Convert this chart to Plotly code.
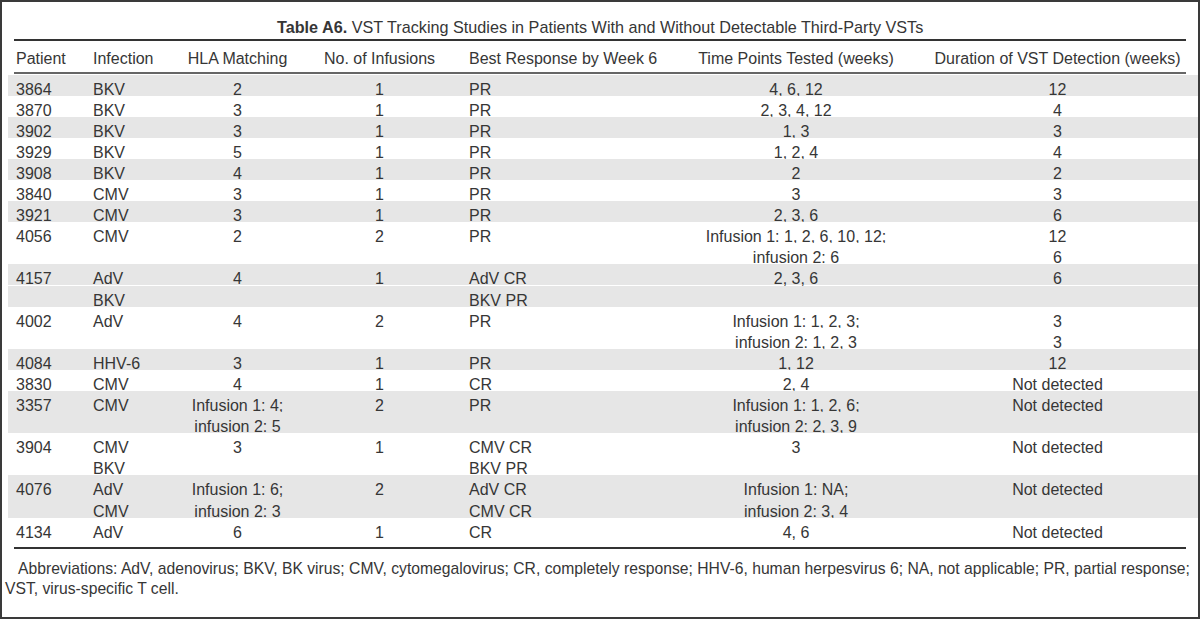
import plotly.graph_objects as go

# ---- data ----
headers = ["Patient", "Infection", "HLA Matching", "No. of Infusions",
           "Best Response by Week 6", "Time Points Tested (weeks)",
           "Duration of VST Detection (weeks)"]
patients = ["3864", "3870", "3902", "3929", "3908", "3840", "3921", "4056",
            "4157", "4002", "4084", "3830", "3357", "3904", "4076", "4134"]
infection = ["BKV", "BKV", "BKV", "BKV", "BKV", "CMV", "CMV", "CMV",
             "AdV\nBKV", "AdV", "HHV-6", "CMV", "CMV", "CMV\nBKV", "AdV\nCMV", "AdV"]
hla_matching = ["2", "3", "3", "5", "4", "3", "3", "2", "4", "4", "3", "4",
                "Infusion 1: 4;\ninfusion 2: 5", "3",
                "Infusion 1: 6;\ninfusion 2: 3", "6"]
n_infusions = ["1", "1", "1", "1", "1", "1", "1", "2", "1", "2", "1", "1",
               "2", "1", "2", "1"]
best_response = ["PR", "PR", "PR", "PR", "PR", "PR", "PR", "PR",
                 "AdV CR\nBKV PR", "PR", "PR", "CR", "PR",
                 "CMV CR\nBKV PR", "AdV CR\nCMV CR", "CR"]
time_points = ["4, 6, 12", "2, 3, 4, 12", "1, 3", "1, 2, 4", "2", "3", "2, 3, 6",
               "Infusion 1: 1, 2, 6, 10, 12;\ninfusion 2: 6", "2, 3, 6",
               "Infusion 1: 1, 2, 3;\ninfusion 2: 1, 2, 3", "1, 12", "2, 4",
               "Infusion 1: 1, 2, 6;\ninfusion 2: 2, 3, 9", "3",
               "Infusion 1: NA;\ninfusion 2: 3, 4", "4, 6"]
duration = ["12", "4", "3", "4", "2", "3", "6", "12\n6", "6", "3\n3", "12",
            "Not detected", "Not detected", "Not detected", "Not detected",
            "Not detected"]

title_bold = "Table A6."
title_rest = "VST Tracking Studies in Patients With and Without Detectable Third-Party VSTs"
foot1 = ("Abbreviations: AdV, adenovirus; BKV, BK virus; CMV, cytomegalovirus; CR, completely "
         "response; HHV-6, human herpesvirus 6; NA, not applicable; PR, partial response;")
foot2 = "VST, virus-specific T cell."

# ---- style ----
FONT = "Liberation Sans, Arial, sans-serif"
TXT = "#363636"
SHADE = "#e6e6e6"
W, H = 1200, 619
FS = 16

cols = [patients, infection, hla_matching, n_infusions, best_response, time_points, duration]
line_cols = [[] for _ in cols]
fills = []
for i in range(len(patients)):
    parts = [c[i].split("\n") for c in cols]
    n = max(len(p) for p in parts)
    for k in range(n):
        for j, p in enumerate(parts):
            line_cols[j].append(p[k] if k < len(p) else "")
    fills += [SHADE if i % 2 == 0 else "white"] * n

aligns = ["left", "left", "center", "center", "left", "center", "center"]
widths = [77, 92, 121, 163, 214, 242, 281]

fig = go.Figure(go.Table(
    domain=dict(x=[8 / W, (8 + sum(widths)) / W], y=[0, 1 - 44 / H]),
    columnwidth=widths,
    header=dict(values=headers, align=aligns,
                font=dict(family=FONT, size=FS, color=TXT),
                fill_color="white", line=dict(width=0, color="white"), height=30.5),
    cells=dict(values=line_cols, align=aligns,
               font=dict(family=FONT, size=FS, color=TXT),
               fill_color=[fills] * len(cols), line=dict(width=0, color="white"),
               height=21.1),
))

def hrule(ypx, w):
    fig.add_shape(type="line", xref="paper", yref="paper",
                  x0=14 / W, x1=1186 / W, y0=1 - ypx / H, y1=1 - ypx / H,
                  line=dict(color="#333333", width=w))

hrule(40, 2)
hrule(73, 1.5)
hrule(548, 2)

fig.add_shape(type="rect", xref="paper", yref="paper", x0=0, x1=1, y0=0, y1=1,
              line=dict(color="#3a3a3a", width=4))

fig.add_annotation(x=0.5, y=1 - 27 / H, xref="paper", yref="paper", showarrow=False,
                   text=f"<b>{title_bold}</b> {title_rest}",
                   font=dict(family=FONT, size=16.2, color=TXT), xanchor="center", yanchor="middle")
fig.add_annotation(x=16 / W, y=1 - 568 / H, xref="paper", yref="paper", showarrow=False,
                   text=foot1, font=dict(family=FONT, size=15.7, color=TXT),
                   xanchor="left", yanchor="middle")
fig.add_annotation(x=3 / W, y=1 - 588 / H, xref="paper", yref="paper", showarrow=False,
                   text=foot2, font=dict(family=FONT, size=15.7, color=TXT),
                   xanchor="left", yanchor="middle")

fig.update_layout(width=W, height=H, margin=dict(l=0, r=0, t=0, b=0),
                  paper_bgcolor="white", plot_bgcolor="white")
fig.write_html("out.html", config={"displayModeBar": False},
               post_script="document.body.style.margin='0';document.body.style.overflow='hidden';")
